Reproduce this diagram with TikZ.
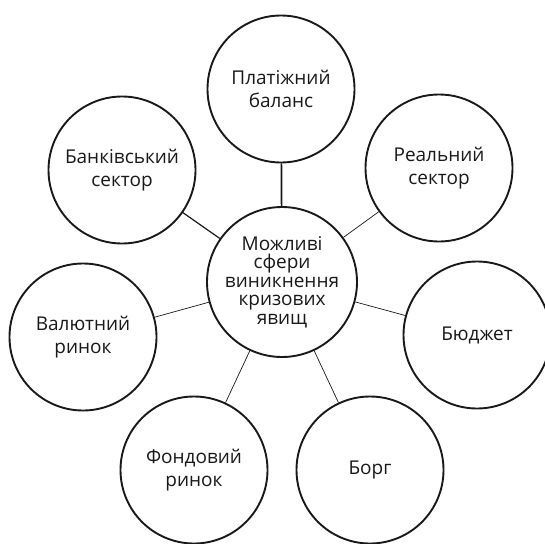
\documentclass[tikz,border=0pt]{standalone}
\usepackage{fontspec}
\setmainfont{Open Sans}
\begin{document}
\begin{tikzpicture}[x=1pt,y=-1pt,
  sphere/.style={circle,draw=black!90,line width=1.9pt,minimum size=147pt,
    inner sep=0pt,align=center,font=\fontsize{19}{23.5}\selectfont,text=black!90},
  hub/.style={sphere,minimum size=150pt,font=\fontsize{19}{18.5}\selectfont},
  thick link/.style={draw=black!90,line width=1.7pt},
  mid link/.style={draw=black!90,line width=1.2pt},
  thin link/.style={draw=black!90,line width=0.7pt}]
  \useasboundingbox (0,0) rectangle (545,543);
  % central circle
  \node[hub] (c) at (282,282) {Можливі\\сфери\\виникнення\\кризових\\явищ};
  % surrounding spheres
  \node[sphere] (pb) at (281,89)  {Платіжний\\баланс};
  \node[sphere] (bs) at (122,170) {Банківський\\сектор};
  \node[sphere] (rs) at (439,168) {Реальний\\сектор};
  \node[sphere] (vr) at (83,337)  {Валютний\\ринок};
  \node[sphere] (bd) at (477,335) {Бюджет};
  \node[sphere] (fr) at (194,470) {Фондовий\\ринок};
  \node[sphere] (bg) at (370,470) {Борг};
  % connectors
  \draw[thick link] (c) -- (pb);
  \draw[mid link] (c) -- (bs);
  \draw[thin link] (c) -- (rs);
  \draw[thin link] (c) -- (vr);
  \draw[thin link] (c) -- (bd);
  \draw[thin link] (c) -- (fr);
  \draw[thin link] (c) -- (bg);
\end{tikzpicture}
\end{document}
